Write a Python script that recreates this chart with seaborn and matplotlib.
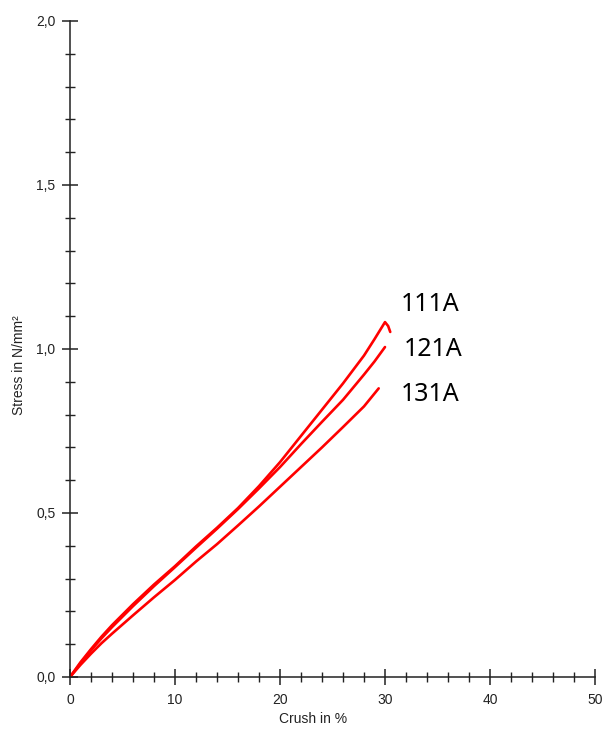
import matplotlib
matplotlib.use("Agg")
import matplotlib.pyplot as plt
from matplotlib.ticker import MultipleLocator, FuncFormatter
import seaborn as sns
import pandas as pd

# Stress-crush curves for three foam samples
crush_111 = [0, 1, 2, 3, 4, 6, 8, 10, 12, 14, 16, 18, 20, 22, 24, 26, 28, 29, 30, 30.3, 30.5]
stress_111 = [0, 0.045, 0.085, 0.123, 0.158, 0.222, 0.282, 0.338, 0.398, 0.455, 0.515, 0.582,
              0.655, 0.735, 0.815, 0.895, 0.98, 1.03, 1.082, 1.07, 1.052]

crush_121 = [0, 1, 2, 3, 4, 6, 8, 10, 12, 14, 16, 18, 20, 22, 24, 26, 28, 29, 30]
stress_121 = [0, 0.042, 0.081, 0.118, 0.152, 0.216, 0.277, 0.335, 0.394, 0.452, 0.512, 0.575,
              0.64, 0.71, 0.778, 0.845, 0.922, 0.962, 1.006]

crush_131 = [0, 1, 2, 3, 4, 6, 8, 10, 12, 14, 16, 18, 20, 22, 24, 26, 28, 29.4]
stress_131 = [0, 0.037, 0.071, 0.103, 0.132, 0.188, 0.243, 0.296, 0.352, 0.405, 0.462, 0.52,
              0.58, 0.64, 0.70, 0.762, 0.825, 0.88]

samples = ["111A", "121A", "131A"]
label_pos = {"111A": (31.5, 1.135), "121A": (31.8, 1.0), "131A": (31.5, 0.86)}

frames = []
for name, xs, ys in [("111A", crush_111, stress_111),
                     ("121A", crush_121, stress_121),
                     ("131A", crush_131, stress_131)]:
    frames.append(pd.DataFrame({"crush": xs, "stress": ys, "sample": name}))
df = pd.concat(frames, ignore_index=True)

sns.set_theme(style="white")
plt.rcParams["font.family"] = ["Liberation Sans", "DejaVu Sans"]

fig = plt.figure(figsize=(6.03, 7.29), dpi=100)
ax = fig.add_axes([70 / 603, 1 - 677 / 729, 525 / 603, 656 / 729])

sns.lineplot(data=df, x="crush", y="stress", hue="sample", units="sample",
             estimator=None, sort=False, palette=["#ff0000"] * 3,
             linewidth=1.9, legend=False, ax=ax)

# sample names beside the curve ends (Noto Sans has no tight "11" kerning)
for name in samples:
    x, y = label_pos[name]
    ax.text(x, y, name, fontsize=18, family=["Noto Sans", "DejaVu Sans"],
            color="black", va="center", ha="left")

ax.set_xlim(0, 50)
ax.set_ylim(0, 2.0)
ax.xaxis.set_major_locator(MultipleLocator(10))
ax.xaxis.set_minor_locator(MultipleLocator(2))
ax.yaxis.set_major_locator(MultipleLocator(0.5))
ax.yaxis.set_minor_locator(MultipleLocator(0.1))
ax.yaxis.set_major_formatter(FuncFormatter(lambda v, p: f"{v:.1f}".replace(".", ",")))

for side in ["top", "right"]:
    ax.spines[side].set_visible(False)
for side in ["left", "bottom"]:
    ax.spines[side].set_color("#222222")
    ax.spines[side].set_linewidth(1.1)

ax.tick_params(which="major", direction="inout", length=11, width=1.1,
               color="#222222", labelsize=10, labelcolor="#222222", pad=4)
ax.tick_params(which="minor", direction="inout", length=6.5, width=1.0,
               color="#222222")
ax.tick_params(axis="x", which="major", pad=6)
ax.tick_params(axis="y", which="major", pad=5)
ax.tick_params(left=True, bottom=True, which="both")

ax.set_xlabel("Crush in %", fontsize=10, color="#222222")
ax.set_ylabel("Stress in N/mm²", fontsize=10, color="#222222")
ax.xaxis.set_label_coords(0.463, -0.053)
ax.yaxis.set_label_coords(-0.083, 0.476)
ax.grid(False)

fig.savefig("out.png", dpi=100, facecolor="white")
